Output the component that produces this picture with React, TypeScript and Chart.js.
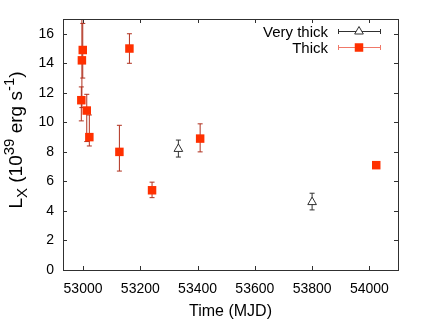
import React, { useEffect, useRef } from "react";
import { Chart, registerables } from "chart.js";

Chart.register(...registerables);

// ---- data ----
const thickX = [52999, 52996, 52994, 53013, 53022, 53127, 53162, 53241, 53409, 54024];
const thickY = [14.9, 14.2, 11.5, 10.8, 9.0, 8.0, 15.0, 5.4, 8.9, 7.1];
const thickLo = [13.0, 11.0, 10.1, 8.7, 8.4, 6.7, 14.0, 4.9, 8.0, 6.95];
const thickHi = [16.7, 18.5, 12.4, 11.9, 10.5, 9.8, 16.0, 5.95, 9.9, 7.25];

const vthickX = [53333, 53800];
const vthickY = [8.2, 4.6];
const vthickLo = [7.65, 4.07];
const vthickHi = [8.8, 5.2];

const xTicks = [53000, 53200, 53400, 53600, 53800, 54000];
const yTicks = [0, 2, 4, 6, 8, 10, 12, 14, 16];

const seriesNames = ["Very thick", "Thick"];
const xTitle = "Time (MJD)";

const FONT = "'Liberation Sans', Arial, Helvetica, sans-serif";
const RED = "#ff3000";
const ERR_RED = "#b0301e";
const LEG_RED = "#f07868";
const DARK = "#303030";

const errorSets = [
  { x: vthickX, lo: vthickLo, hi: vthickHi, color: DARK },
  { x: thickX, lo: thickLo, hi: thickHi, color: ERR_RED },
];

const plotPlugin = {
  id: "gnuplotStyle",
  beforeDatasetsDraw(chart: any) {
    const { ctx, chartArea: a, scales } = chart;
    const xs = scales.x, ys = scales.y;
    ctx.save();
    ctx.beginPath();
    ctx.rect(a.left, a.top, a.right - a.left, a.bottom - a.top);
    ctx.clip();
    ctx.lineWidth = 1;
    for (const s of errorSets) {
      ctx.strokeStyle = s.color;
      for (let i = 0; i < s.x.length; i++) {
        const px = xs.getPixelForValue(s.x[i]);
        const p1 = ys.getPixelForValue(s.lo[i]);
        const p2 = ys.getPixelForValue(s.hi[i]);
        ctx.beginPath();
        ctx.moveTo(px, p1);
        ctx.lineTo(px, p2);
        ctx.moveTo(px - 2.5, p1);
        ctx.lineTo(px + 2.5, p1);
        ctx.moveTo(px - 2.5, p2);
        ctx.lineTo(px + 2.5, p2);
        ctx.stroke();
      }
    }
    ctx.restore();
  },
  afterDraw(chart: any) {
    const { ctx, chartArea: a, scales } = chart;
    const xs = scales.x, ys = scales.y;
    ctx.save();
    // border box
    ctx.strokeStyle = DARK;
    ctx.lineWidth = 1;
    ctx.strokeRect(Math.round(a.left) + 0.5, Math.round(a.top) + 0.5,
      Math.round(a.right - a.left), Math.round(a.bottom - a.top));
    // inward ticks on all sides
    const T = 4;
    ctx.beginPath();
    for (const v of xTicks) {
      const px = Math.round(xs.getPixelForValue(v)) + 0.5;
      ctx.moveTo(px, a.bottom);
      ctx.lineTo(px, a.bottom - T);
      ctx.moveTo(px, a.top);
      ctx.lineTo(px, a.top + T);
    }
    for (const v of yTicks) {
      const py = Math.round(ys.getPixelForValue(v)) + 0.5;
      ctx.moveTo(a.left, py);
      ctx.lineTo(a.left + T, py);
      ctx.moveTo(a.right, py);
      ctx.lineTo(a.right - T, py);
    }
    ctx.stroke();

    // x title
    ctx.fillStyle = "#000";
    ctx.font = `16px ${FONT}`;
    ctx.textAlign = "center";
    ctx.textBaseline = "middle";
    ctx.fillText(xTitle, (a.left + a.right) / 2, 312);

    // y title with sub/superscripts
    ctx.save();
    ctx.translate(22, 140);
    ctx.rotate(-Math.PI / 2);
    ctx.textBaseline = "alphabetic";
    ctx.textAlign = "left";
    const big = `19px ${FONT}`;
    const small = `15px ${FONT}`;
    const parts: [string, string, number][] = [
      ["L", big, 0],
      ["X", small, 5],
      [" (10", big, 0],
      ["39", small, -8],
      [" erg s", big, 0],
      ["-1", small, -8],
      [")", big, 0],
    ];
    let total = 0;
    for (const [t, f] of parts) { ctx.font = f; total += ctx.measureText(t).width; }
    let cx = -total / 2;
    for (const [t, f, dy] of parts) {
      ctx.font = f;
      ctx.fillText(t, cx, dy);
      cx += ctx.measureText(t).width;
    }
    ctx.restore();

    // legend
    ctx.font = `15px ${FONT}`;
    ctx.textAlign = "right";
    ctx.textBaseline = "middle";
    const rows = [
      { y: 31, line: DARK, name: seriesNames[0] },
      { y: 47, line: LEG_RED, name: seriesNames[1] },
    ];
    rows.forEach((r, i) => {
      ctx.fillStyle = "#000";
      ctx.fillText(r.name, 328, r.y + 1.5);
      const y = r.y + 0.5;
      ctx.strokeStyle = r.line;
      ctx.lineWidth = 1;
      ctx.beginPath();
      ctx.moveTo(338, y); ctx.lineTo(380, y);
      ctx.moveTo(338.5, y - 2.5); ctx.lineTo(338.5, y + 2.5);
      ctx.moveTo(380.5, y - 2.5); ctx.lineTo(380.5, y + 2.5);
      ctx.stroke();
      const mx = 359, my = r.y + 0.5;
      if (i === 0) {
        ctx.fillStyle = "#fff";
        ctx.strokeStyle = DARK;
        ctx.beginPath();
        ctx.moveTo(mx, my - 5);
        ctx.lineTo(mx + 4.33, my + 2.5);
        ctx.lineTo(mx - 4.33, my + 2.5);
        ctx.closePath();
        ctx.fill();
        ctx.stroke();
      } else {
        ctx.fillStyle = RED;
        ctx.fillRect(mx - 4.25, my - 4.25, 8.5, 8.5);
      }
    });
    ctx.restore();
  },
};

export default function App() {
  const ref = useRef<HTMLCanvasElement | null>(null);
  useEffect(() => {
    if (!ref.current) return;
    const chart = new Chart(ref.current, {
      type: "scatter",
      data: {
        datasets: [
          {
            label: seriesNames[0],
            data: vthickX.map((x, i) => ({ x, y: vthickY[i] })),
            pointStyle: "triangle",
            radius: 5,
            backgroundColor: "rgba(255,255,255,1)",
            borderColor: DARK,
            borderWidth: 1,
          },
          {
            label: seriesNames[1],
            data: thickX.map((x, i) => ({ x, y: thickY[i] })),
            pointStyle: "rect",
            radius: 6,
            backgroundColor: RED,
            borderColor: RED,
            borderWidth: 0,
          },
        ],
      },
      options: {
        animation: false,
        responsive: false,
        events: [],
        layout: { padding: { top: 19, right: 27, left: 0, bottom: 0 } },
        plugins: { legend: { display: false }, tooltip: { enabled: false } },
        scales: {
          x: {
            type: "linear",
            min: 52930,
            max: 54100,
            afterBuildTicks: (s: any) => { s.ticks = xTicks.map((v) => ({ value: v })); },
            afterFit: (s: any) => { s.height = 52; },
            grid: { display: false, drawTicks: false },
            border: { display: false },
            ticks: {
              color: "#000",
              font: { family: FONT, size: 14 },
              padding: 11,
              maxRotation: 0,
              autoSkip: false,
              callback: (v: any) => String(v),
            },
          },
          y: {
            type: "linear",
            min: 0,
            max: 17,
            afterBuildTicks: (s: any) => { s.ticks = yTicks.map((v) => ({ value: v })); },
            afterFit: (s: any) => { s.width = 63; },
            grid: { display: false, drawTicks: false },
            border: { display: false },
            ticks: {
              color: "#000",
              font: { family: FONT, size: 14 },
              padding: 9,
              autoSkip: false,
              callback: (v: any) => String(v),
            },
          },
        },
      },
      plugins: [plotPlugin],
    } as any);
    return () => chart.destroy();
  }, []);
  return (
    <div style={{ position: "fixed", left: 0, top: 0, width: 425, height: 322, background: "#fff" }}>
      <canvas ref={ref} width={425} height={322} style={{ width: 425, height: 322, display: "block" }} />
    </div>
  );
}
